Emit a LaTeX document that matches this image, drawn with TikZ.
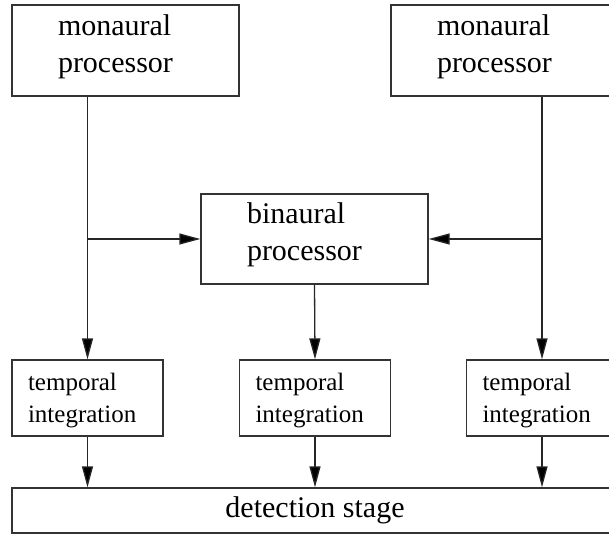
\documentclass[tikz,border=0pt]{standalone}
\usepackage{fontspec}
\setmainfont{Liberation Serif}
\usetikzlibrary{positioning,arrows.meta}
\pgfkeys{tikz/bigbox/.style={draw=black!80, line width=1.3pt, rectangle, minimum width=227pt, minimum height=91pt, inner sep=0pt, text width=135pt, align=left, font=\fontsize{30}{37}\selectfont, execute at end node={\par\vspace{8pt}}}}
\pgfkeys{tikz/smallbox/.style={draw=black!80, line width=1.3pt, rectangle, minimum width=151pt, minimum height=76pt, inner sep=0pt, text width=119pt, align=left, font=\fontsize{25}{32}\selectfont, execute at end node={\par\vspace{-6pt}}}}
\pgfkeys{tikz/flow/.style={draw=black!85, line width=1.3pt, -{Triangle[length=21pt,width=11pt,fill=black]}}}

\begin{document}
\begin{tikzpicture}[x=1pt,y=-1pt]
    \useasboundingbox (0,0) rectangle (609,534);

	\node[bigbox] (monl) at (125.5,50.5) {monaural\\processor};
	\node[bigbox] (monr) at (504.5,50.5) {monaural\\processor};
	\node[bigbox, minimum height=90pt] (bin) at (314.5,239) {binaural\\processor};

	\node[smallbox] (templ) at (87.5,398) {temporal\\integration};
	\node[smallbox] (tempm) at (315,398) {temporal\\integration};
	\node[smallbox] (tempr) at (542,398) {temporal\\integration};

	\node[draw=black!80, line width=1.3pt, minimum width=606pt, minimum height=45pt, inner sep=0pt,
	      font=\fontsize{30}{37}\selectfont] (det) at (315,510.5) {detection stage};

	% monaural paths down to the integrators
	\draw[flow] (templ.north |- monl.south) -- (templ.north);
	\draw[flow] (tempr.north |- monr.south) -- (tempr.north);

	% branches into the binaural processor
	\draw[flow] (templ.north |- bin.west) -- (bin.west);
	\draw[flow] (tempr.north |- bin.east) -- (bin.east);
	\draw[flow] (bin.south) -- (tempm.north);

	\draw[flow] (templ.south) -- (templ.south |- det.north);
	\draw[flow] (tempm.south) -- (tempm.south |- det.north);
	\draw[flow] (tempr.south) -- (tempr.south |- det.north);
\end{tikzpicture}
\end{document}
